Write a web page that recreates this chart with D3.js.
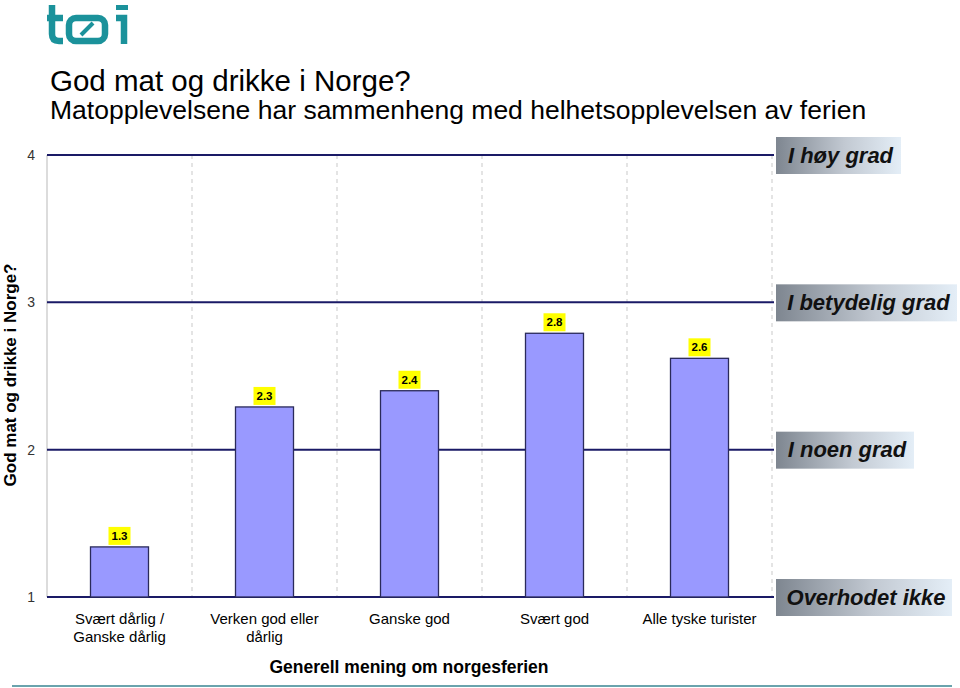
<!DOCTYPE html>
<html>
<head>
<meta charset="utf-8">
<script src="https://cdn.jsdelivr.net/npm/d3@7"></script>
<style>
  body { margin: 0; background: #fff; }
  svg { display: block; font-family: Arial, "Liberation Sans", sans-serif; }
</style>
</head>
<body>
<svg width="960" height="688"></svg>
<script>
// data
var categories = [['Svært dårlig /', 'Ganske dårlig'], ['Verken god eller', 'dårlig'], ['Ganske god'], ['Svært god'], ['Alle tyske turister']];
var values = [1.34, 2.29, 2.4, 2.79, 2.62];
var yTicks = [1, 2, 3, 4];
var levelLabels = ['Overhodet ikke', 'I noen grad', 'I betydelig grad', 'I høy grad'];

var svg = d3.select('svg');
var plot = {l: 47, r: 772, t: 155, b: 597};

var x = d3.scaleBand()
    .domain(d3.range(categories.length))
    .range([plot.l, plot.r]);

var y = d3.scaleLinear()
    .domain([1, 4])
    .range([plot.b, plot.t]);

// logo
var logo = svg.append('g')
    .attr('fill', 'none')
    .attr('stroke', '#1b929b')
    .attr('stroke-width', 6.5);
logo.append('path').attr('d', 'M52,5 V34 Q52,41 59,41 H63');
logo.append('path').attr('d', 'M47,18 H63');
logo.append('rect').attr('x', 69).attr('y', 18).attr('width', 36).attr('height', 23).attr('rx', 7);
logo.append('path').attr('d', 'M81,35 L93,23').attr('stroke-width', 4);
logo.append('path').attr('d', 'M116,18 H124 V44');
logo.append('rect').attr('x', 116).attr('y', 5).attr('width', 12).attr('height', 5)
    .attr('fill', '#1b929b').attr('stroke', 'none');

// titles
svg.append('text').attr('x', 50).attr('y', 91)
    .attr('font-size', 29.5).attr('fill', '#000')
    .text('God mat og drikke i Norge?');
svg.append('text').attr('x', 50).attr('y', 119)
    .attr('font-size', 26.5).attr('fill', '#000')
    .text('Matopplevelsene har sammenheng med helhetsopplevelsen av ferien');

// left axis line
svg.append('line')
    .attr('x1', plot.l).attr('x2', plot.l)
    .attr('y1', plot.t).attr('y2', plot.b)
    .attr('stroke', '#d0d0d0').attr('stroke-width', 1.5);

// category separators
svg.selectAll('.sep')
    .data(d3.range(1, categories.length + 1))
    .enter().append('line')
    .attr('class', 'sep')
    .attr('x1', d => x(d - 1) + x.bandwidth()).attr('x2', d => x(d - 1) + x.bandwidth())
    .attr('y1', plot.t).attr('y2', plot.b)
    .attr('stroke', '#dcdcdc').attr('stroke-width', 1.5)
    .attr('stroke-dasharray', '4,4');

// grid lines
svg.selectAll('.grid')
    .data(yTicks)
    .enter().append('line')
    .attr('class', 'grid')
    .attr('x1', plot.l).attr('x2', plot.r + 2)
    .attr('y1', d => y(d)).attr('y2', d => y(d))
    .attr('stroke', '#1a1a66').attr('stroke-width', 2);

// y tick labels
var yAxis = d3.axisLeft(y).tickValues(yTicks).tickSize(0).tickPadding(12).tickFormat(d3.format('d'));
var ya = svg.append('g').attr('transform', 'translate(' + plot.l + ',0)').call(yAxis);
ya.select('.domain').remove();
ya.selectAll('text').attr('font-size', 14).attr('fill', '#333').attr('font-family', 'Arial, "Liberation Sans", sans-serif');

// bars
var barW = 58;
svg.selectAll('.bar')
    .data(values)
    .enter().append('rect')
    .attr('class', 'bar')
    .attr('x', (d, i) => x(i) + x.bandwidth() / 2 - barW / 2)
    .attr('width', barW)
    .attr('y', d => y(d))
    .attr('height', d => y(1) - y(d))
    .attr('fill', '#9999ff')
    .attr('stroke', '#2a2a5a')
    .attr('stroke-width', 1.3);

// value labels
var lab = svg.selectAll('.vlab')
    .data(values)
    .enter().append('g')
    .attr('class', 'vlab')
    .attr('transform', (d, i) => 'translate(' + (x(i) + x.bandwidth() / 2) + ',' + (y(d) - 11) + ')');
lab.append('rect')
    .attr('x', -11).attr('y', -9).attr('width', 22).attr('height', 18)
    .attr('fill', '#ffff00');
lab.append('text')
    .attr('text-anchor', 'middle').attr('dy', '0.35em')
    .attr('font-size', 11.5).attr('font-weight', 'bold')
    .text(d => d3.format('.1f')(d));

// x category labels
svg.selectAll('.xlab')
    .data(categories)
    .enter().append('text')
    .attr('class', 'xlab')
    .attr('text-anchor', 'middle')
    .attr('font-size', 15).attr('fill', '#000')
    .attr('x', (d, i) => x(i) + x.bandwidth() / 2)
    .attr('y', 624)
    .selectAll('tspan')
    .data(d => d)
    .enter().append('tspan')
    .attr('x', function() { return d3.select(this.parentNode).attr('x'); })
    .attr('dy', (d, i) => i === 0 ? 0 : 18)
    .text(d => d);

// axis titles
svg.append('text')
    .attr('x', 409).attr('y', 673)
    .attr('text-anchor', 'middle')
    .attr('font-size', 17.5).attr('font-weight', 'bold')
    .text('Generell mening om norgesferien');
svg.append('text')
    .attr('transform', 'translate(16,375) rotate(-90)')
    .attr('text-anchor', 'middle')
    .attr('font-size', 17).attr('font-weight', 'bold')
    .text('God mat og drikke i Norge?');

// level labels on the right
var defs = svg.append('defs');
var grad = defs.append('linearGradient').attr('id', 'lvl');
grad.append('stop').attr('offset', '0%').attr('stop-color', '#7e8690');
grad.append('stop').attr('offset', '55%').attr('stop-color', '#c2c9d2');
grad.append('stop').attr('offset', '100%').attr('stop-color', '#e4eef7');

var boxW = [176, 138, 181, 125];
var lv = svg.selectAll('.lvl')
    .data(levelLabels)
    .enter().append('g')
    .attr('class', 'lvl')
    .attr('transform', (d, i) => 'translate(776,' + y(yTicks[i]) + ')');
lv.append('rect')
    .attr('x', 0).attr('y', -18)
    .attr('width', (d, i) => boxW[i]).attr('height', 37)
    .attr('fill', 'url(#lvl)');
lv.append('text')
    .attr('x', (d, i) => boxW[i] / 2 + 2)
    .attr('dy', '0.35em')
    .attr('text-anchor', 'middle')
    .attr('font-size', 22).attr('font-weight', 'bold').attr('font-style', 'italic')
    .attr('fill', '#111')
    .text(d => d);

// bottom rule
svg.append('line')
    .attr('x1', 12).attr('x2', 952)
    .attr('y1', 686).attr('y2', 686)
    .attr('stroke', '#6aa3ad').attr('stroke-width', 2);
</script>
</body>
</html>
